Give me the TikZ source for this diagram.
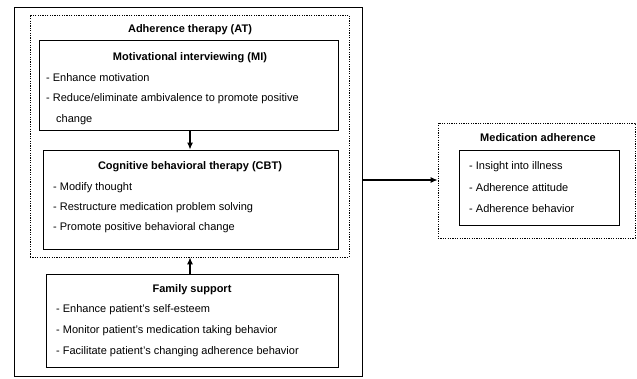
\documentclass[tikz,border=0pt]{standalone}
\usepackage{fontspec}
\setmainfont{Liberation Sans}
\usetikzlibrary{arrows.meta}
\begin{document}
\begin{tikzpicture}[x=1pt,y=-1pt,
  solidbox/.style={draw,line width=0.9pt,minimum width=#1,inner sep=0pt},
  dotbox/.style={draw,line width=0.8pt,dash pattern=on 1.2pt off 1.2pt,inner sep=0pt},
  item/.style={anchor=west,inner sep=0pt,font=\fontsize{11}{13}\selectfont},
  ttl/.style={inner sep=0pt,font=\fontsize{11}{13}\selectfont\bfseries},
  arr/.style={line width=1.2pt,-{Latex[length=7pt,width=6pt]}}]
\useasboundingbox (0,0) rectangle (637,378);
% outer
\node[solidbox=348pt,minimum height=369pt] (outer) at (188,191.5) {};
\node[dotbox,minimum width=319pt,minimum height=242pt] (at) at (189.5,136) {};
\node[ttl] (attitle) at (190,30) {Adherence therapy (AT)};
% MI
\node[solidbox=299pt,minimum height=90pt] (mi) at (188.5,85) {};
\node[ttl] (mititle) at (190,58) {Motivational interviewing (MI)};
\node[item] (mi1) at (46,78) {- Enhance motivation};
\node[item] (mi2) at (46,99) {- Reduce/eliminate ambivalence to promote positive};
\node[item] (mi3) at (56,120) {change};
% CBT
\node[solidbox=295pt,minimum height=99pt] (cbt) at (190.5,199.5) {};
\node[ttl] (cbttitle) at (190,167) {Cognitive behavioral therapy (CBT)};
\node[item] (cbt1) at (53,188) {- Modify thought};
\node[item] (cbt2) at (53,208) {- Restructure medication problem solving};
\node[item] (cbt3) at (53,228) {- Promote positive behavioral change};
% Family
\node[solidbox=292pt,minimum height=93pt] (fam) at (192,320.5) {};
\node[ttl] (famtitle) at (192,290) {Family support};
\node[item] (fam1) at (56,310) {- Enhance patient's self-esteem};
\node[item] (fam2) at (56,331) {- Monitor patient's medication taking behavior};
\node[item] (fam3) at (56,352) {- Facilitate patient's changing adherence behavior};
% Medication adherence
\node[dotbox,minimum width=197pt,minimum height=115pt] (med) at (536.5,180.5) {};
\node[ttl] (medtitle) at (538,138) {Medication adherence};
\node[solidbox=160pt,minimum height=75pt] (medin) at (539,187.5) {};
\node[item] (med1) at (469,167) {- Insight into illness};
\node[item] (med2) at (469,188) {- Adherence attitude};
\node[item] (med3) at (469,209) {- Adherence behavior};
% arrows
\draw[arr] (mi.south -| 190,0) -- (cbt.north -| 190,0);
\draw[arr] (fam.north -| 190,0) -- (at.south -| 190,0);
\draw[arr] (outer.east |- 0,180) -- (med.west |- 0,180);
\end{tikzpicture}
\end{document}
